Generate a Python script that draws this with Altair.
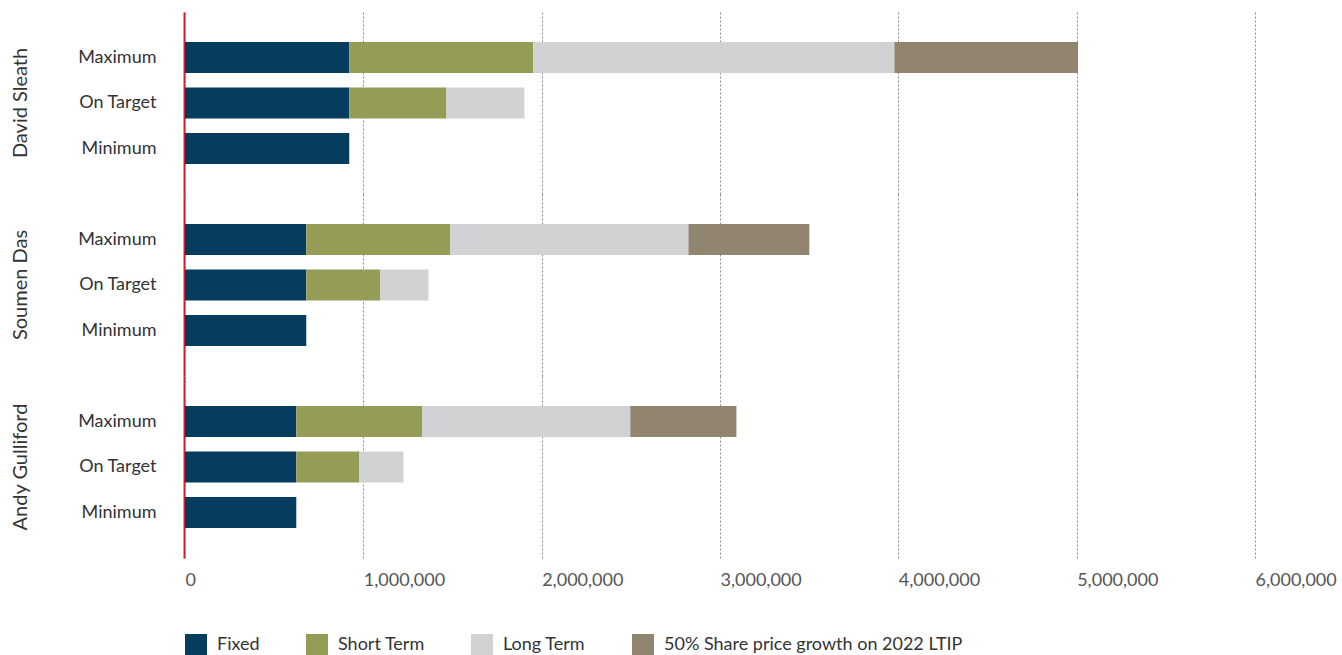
import altair as alt
import pandas as pd

people = ["David Sleath", "Soumen Das", "Andy Gulliford"]
scenarios = ["Maximum", "On Target", "Minimum"]
components = ["Fixed", "Short Term", "Long Term", "50% Share price growth on 2022 LTIP"]
colors = ["#063c5e", "#959c55", "#d1d2d4", "#918570"]

fixed = [921000, 680000, 624000]
short_max = [1032000, 808000, 707000]
short_target = [545000, 415000, 354000]
long_max = [2025000, 1335000, 1166000]
long_target = [437000, 270000, 247000]
share_max = [1030000, 678000, 595000]
x_ticks = [0, 1000000, 2000000, 3000000, 4000000, 5000000, 6000000]

rows = []
for i, p in enumerate(people):
    vals = {
        "Maximum": [fixed[i], short_max[i], long_max[i], share_max[i]],
        "On Target": [fixed[i], short_target[i], long_target[i], 0],
        "Minimum": [fixed[i], 0, 0, 0],
    }
    for s in scenarios:
        for k, c in enumerate(components):
            if vals[s][k] > 0:
                rows.append({"person": p, "scenario": s, "component": c,
                             "value": vals[s][k], "order": k})
df = pd.DataFrame(rows)

FONT = "Lato"

base = alt.Chart(df).mark_bar().encode(
    x=alt.X("value:Q", stack="zero",
            scale=alt.Scale(domain=[0, 6000000], nice=False),
            axis=alt.Axis(values=x_ticks, format=",d", title=None, labelAlign="left",
                          labelPadding=13, ticks=False, domain=False, grid=True,
                          gridDash=[2, 2], gridColor="#8a8a8a", gridWidth=1,
                          labelFontSize=18, labelColor="#555555", labelFont=FONT)),
    y=alt.Y("scenario:N", sort=scenarios, title=None,
            scale=alt.Scale(paddingInner=0.32, paddingOuter=0.66),
            axis=alt.Axis(ticks=False, domain=True, domainColor="#d0202a", domainWidth=2,
                          offset=1, labelPadding=28, labelFontSize=18, labelColor="#333333",
                          labelFont=FONT)),
    color=alt.Color("component:N", sort=components,
                    scale=alt.Scale(domain=components, range=colors),
                    legend=alt.Legend(title=None, orient="bottom", direction="horizontal",
                                      symbolType="square", symbolSize=484,
                                      symbolStrokeWidth=0, labelFontSize=18,
                                      labelColor="#333333", labelFont=FONT, labelLimit=0,
                                      columnPadding=46, labelOffset=10, offset=45)),
    order=alt.Order("order:Q"),
).properties(width=1070, height=182)

chart = base.facet(
    row=alt.Row("person:N", sort=people,
                header=alt.Header(title=None, labelAngle=-90, labelOrient="left",
                                  labelFontSize=20, labelColor="#333333", labelFont=FONT,
                                  labelPadding=37))
).configure_facet(spacing=0).configure_view(stroke=None).properties(
    padding={"left": 10, "top": 12, "right": 0, "bottom": 0}
)

chart.save("out.html", embed_options={"renderer": "svg", "actions": False})
